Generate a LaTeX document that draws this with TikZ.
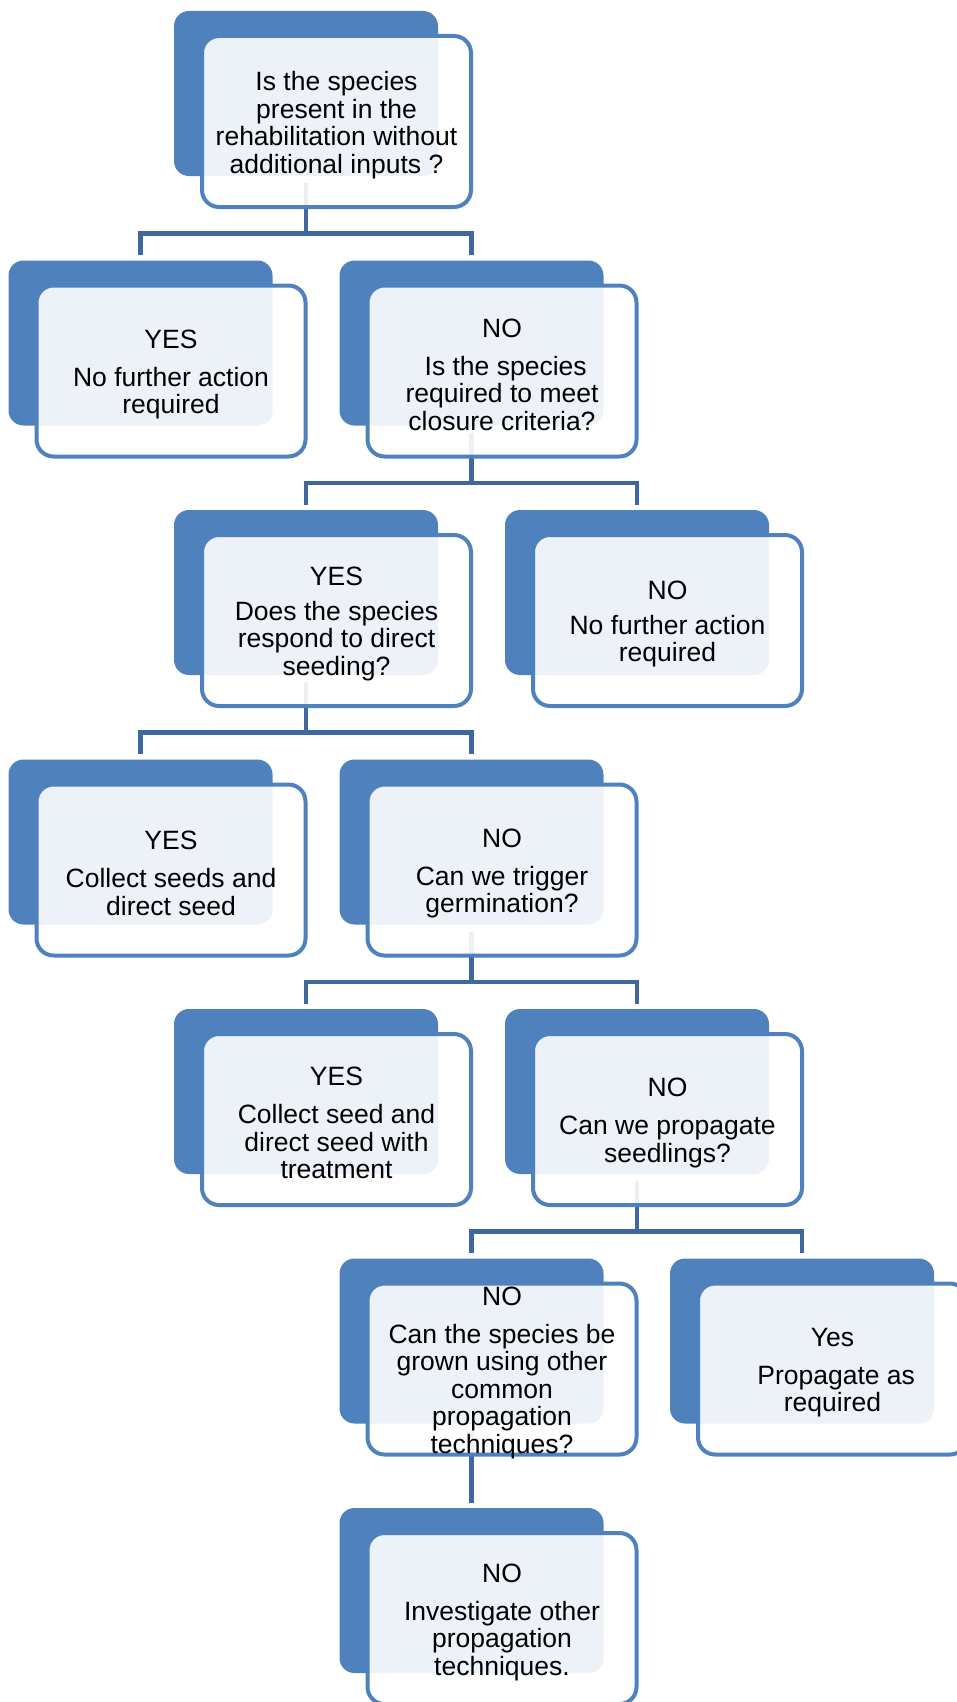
\documentclass[tikz,border=0pt]{standalone}
\usepackage{fontspec}
\setmainfont{Liberation Sans}
\usetikzlibrary{calc}
\definecolor{boxblue}{RGB}{79,129,189}
\definecolor{linkblue}{RGB}{64,104,158}
\tikzset{
  backbox/.style={rectangle, rounded corners=15pt, fill=boxblue, draw=none,
    minimum width=264pt, minimum height=165pt, inner sep=0pt, outer sep=0pt, anchor=north west},
  frontbox/.style={rectangle, rounded corners=17pt, draw=boxblue, line width=4pt,
    fill=white, fill opacity=0.9, draw opacity=1,
    minimum width=269pt, minimum height=171pt, inner sep=0pt, outer sep=0pt,
    anchor=north west},
  boxtext/.style={inner sep=0pt, align=center, yshift=-3.5pt,
    font=\fontsize{26.5}{27.5}\selectfont},
  link/.style={draw=linkblue, line width=4.5pt},
}
\begin{document}
\begin{tikzpicture}[x=1pt,y=-1pt]
\useasboundingbox (0,0) rectangle (956,1702);
% back boxes
\node[backbox] (b1)  at (174,11) {};
\node[backbox] (b2l) at (8.5,260.5) {};
\node[backbox] (b2r) at (339.5,260.5) {};
\node[backbox] (b3l) at (174,510) {};
\node[backbox] (b3r) at (505,510) {};
\node[backbox] (b4l) at (8.5,759.5) {};
\node[backbox] (b4r) at (339.5,759.5) {};
\node[backbox] (b5l) at (174,1009) {};
\node[backbox] (b5r) at (505,1009) {};
\node[backbox] (b6l) at (339.5,1258.5) {};
\node[backbox] (b6r) at (670,1258.5) {};
\node[backbox] (b7)  at (339.5,1508) {};
% connectors
\draw[link] ($(b1.south)+(0,7)$) -- ($(b1.south)+(0,57.5)$);
\draw[link] ($(b2l.north)+(0,-5.5)$) |- ($(b1.south)+(0,57.5)$) -| ($(b2r.north)+(0,-5.5)$);
\draw[link] ($(b2r.south)+(0,7)$) -- ($(b2r.south)+(0,57.5)$);
\draw[link] ($(b3l.north)+(0,-5.5)$) |- ($(b2r.south)+(0,57.5)$) -| ($(b3r.north)+(0,-5.5)$);
\draw[link] ($(b3l.south)+(0,7)$) -- ($(b3l.south)+(0,57.5)$);
\draw[link] ($(b4l.north)+(0,-5.5)$) |- ($(b3l.south)+(0,57.5)$) -| ($(b4r.north)+(0,-5.5)$);
\draw[link] ($(b4r.south)+(0,7)$) -- ($(b4r.south)+(0,57.5)$);
\draw[link] ($(b5l.north)+(0,-5.5)$) |- ($(b4r.south)+(0,57.5)$) -| ($(b5r.north)+(0,-5.5)$);
\draw[link] ($(b5r.south)+(0,7)$) -- ($(b5r.south)+(0,57.5)$);
\draw[link] ($(b6l.north)+(0,-5.5)$) |- ($(b5r.south)+(0,57.5)$) -| ($(b6r.north)+(0,-5.5)$);
\draw[link] ($(b6l.south)+(0,7)$) -- ($(b7.north)+(0,-5.5)$);
% front boxes
\node[frontbox] (f1)  at ($(b1.north west)+(28,25)$)  {};
\node[frontbox] (f2l) at ($(b2l.north west)+(28,25)$) {};
\node[frontbox] (f2r) at ($(b2r.north west)+(28,25)$) {};
\node[frontbox] (f3l) at ($(b3l.north west)+(28,25)$) {};
\node[frontbox] (f3r) at ($(b3r.north west)+(28,25)$) {};
\node[frontbox] (f4l) at ($(b4l.north west)+(28,25)$) {};
\node[frontbox] (f4r) at ($(b4r.north west)+(28,25)$) {};
\node[frontbox] (f5l) at ($(b5l.north west)+(28,25)$) {};
\node[frontbox] (f5r) at ($(b5r.north west)+(28,25)$) {};
\node[frontbox] (f6l) at ($(b6l.north west)+(28,25)$) {};
\node[frontbox] (f6r) at ($(b6r.north west)+(28,25)$) {};
\node[frontbox] (f7)  at ($(b7.north west)+(28,25)$)  {};
% texts
\node[boxtext] (t1)  at (f1.center)  {Is the species\\present in the\\rehabilitation without\\additional inputs ?};
\node[boxtext] (t2l) at (f2l.center) {YES\\[10.5pt]No further action\\required};
\node[boxtext] (t2r) at (f2r.center) {NO\\[10.5pt]\ Is the species\\required to meet\\closure criteria?};
\node[boxtext] (t3l) at (f3l.center) {YES\\[7pt]Does the species\\respond to direct\\seeding?};
\node[boxtext] (t3r) at (f3r.center) {NO\\[7pt]No further action\\required};
\node[boxtext] (t4l) at (f4l.center) {YES\\[10.5pt]Collect seeds and\\direct seed};
\node[boxtext] (t4r) at (f4r.center) {NO\\[10.5pt]Can we trigger\\germination?};
\node[boxtext] (t5l) at (f5l.center) {YES\\[10.5pt]Collect seed and\\direct seed with\\treatment};
\node[boxtext] (t5r) at (f5r.center) {NO\\[10.5pt]Can we propagate\\seedlings?};
\node[boxtext] (t6l) at (f6l.center) {NO\\[10.5pt]Can the species be\\grown using other\\common\\propagation\\techniques?};
\node[boxtext] (t6r) at (f6r.center) {Yes\\[10.5pt]\ Propagate as\\required};
\node[boxtext] (t7)  at (f7.center)  {NO\\[10.5pt]Investigate other\\propagation\\techniques.};
\end{tikzpicture}
\end{document}
